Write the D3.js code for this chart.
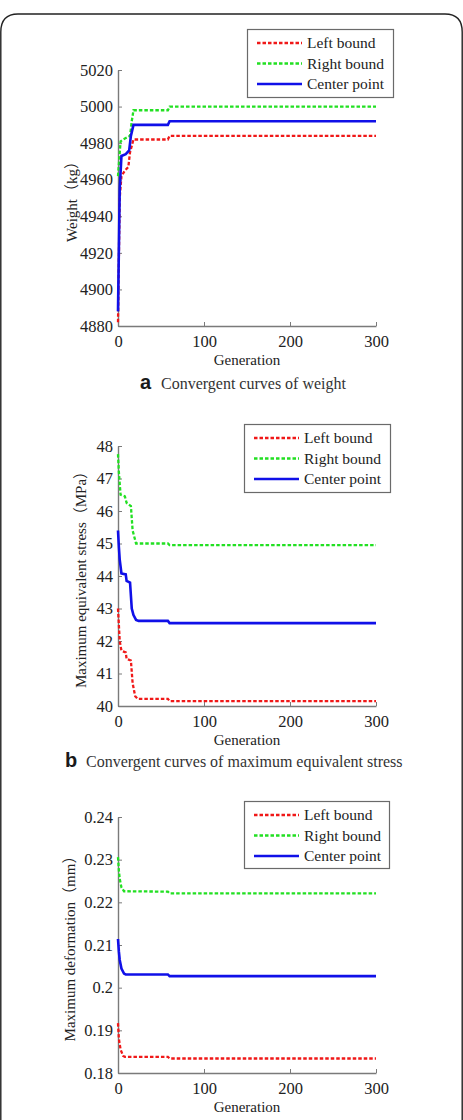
<!DOCTYPE html>
<html>
<head>
<meta charset="utf-8">
<script src="https://cdn.jsdelivr.net/npm/d3@7"></script>
<style>
  body { margin: 0; background: #fff; }
  svg { display: block; }
  .tick text { font-family: "Liberation Serif", serif; font-size: 16.5px; fill: #222; }
  .lbl { font-family: "Liberation Serif", "Noto Sans CJK SC", serif; font-size: 15px; fill: #222; }
</style>
</head>
<body>
<div id="container"></div>
<script>
// generation axis
var genTicks = [0, 100, 200, 300];
var seriesNames = ["Left bound", "Right bound", "Center point"];

// (a) weight, kg  -- [generation, value]
var weightTicks = [4880, 4900, 4920, 4940, 4960, 4980, 5000, 5020];
var weightLeft = [[0,4882],[2,4950],[4,4962],[8,4965],[12,4967],[14,4975],[18,4982],[58,4982],[60,4984],[300,4984]];
var weightRight = [[0,4962],[3,4981],[6,4982],[14,4984],[16,4992],[18,4998],[58,4998],[60,5000],[300,5000]];
var weightCenter = [[0,4888],[2,4955],[4,4973],[9,4974],[13,4976],[15,4984],[18,4990],[58,4990],[60,4992],[300,4992]];

// (b) maximum equivalent stress, MPa
var stressTicks = [40, 41, 42, 43, 44, 45, 46, 47, 48];
var stressLeft = [[0,43.0],[1,42.5],[2,42.0],[4,41.7],[9,41.65],[10,41.45],[15,41.4],[17,40.7],[20,40.3],[23,40.22],[58,40.22],[60,40.15],[300,40.15]];
var stressRight = [[0,47.75],[1,47.2],[3,46.5],[8,46.45],[10,46.25],[15,46.15],[17,45.4],[21,45.0],[58,45.0],[60,44.95],[300,44.95]];
var stressCenter = [[0,45.4],[1,44.9],[2,44.5],[4,44.08],[9,44.05],[10,43.85],[14,43.8],[16,43.0],[18,42.8],[21,42.65],[24,42.62],[58,42.62],[60,42.55],[300,42.55]];

// (c) maximum deformation, mm
var deformTicks = [0.18, 0.19, 0.20, 0.21, 0.22, 0.23, 0.24];
var deformLeft = [[0,0.1917],[1,0.1880],[3,0.1855],[6,0.1840],[8,0.1838],[58,0.1838],[60,0.1834],[300,0.1834]];
var deformRight = [[0,0.2306],[1,0.2275],[2,0.2255],[4,0.2235],[7,0.2226],[58,0.2225],[60,0.2221],[300,0.2221]];
var deformCenter = [[0,0.2114],[1,0.2085],[2,0.2065],[4,0.2045],[7,0.2033],[9,0.2031],[58,0.2031],[60,0.2027],[300,0.2027]];

var W = 463, H = 1120;
var colors = ["#f01818", "#22e022", "#1010e8"];
var dashes = ["3.5,2", "3.5,2", null];
var widths = [2.3, 2.3, 2.6];

var svg = d3.select("#container").append("svg")
	.attr("width", W)
	.attr("height", H);

// outer frame with rounded top corners
svg.append("path")
	.attr("d", "M0.8," + H + " V32 Q0.8,14 18,14 H445 Q462.2,14 462.2,32 V" + H)
	.attr("fill", "none")
	.attr("stroke", "#222")
	.attr("stroke-width", 1.4);

var panels = [
	{ top: 70, bottom: 326, ticks: weightTicks, fmt: d3.format("d"), data: [weightLeft, weightRight, weightCenter],
	  ylabel: "Weight（kg）", ylabelX: 72, legend: { x: 247, y: 29, w: 146, h: 68 },
	  capY: 389, capLetter: "a", capText: "Convergent curves of weight", capX: 140 },
	{ top: 446, bottom: 706, ticks: stressTicks, fmt: d3.format("d"), data: [stressLeft, stressRight, stressCenter],
	  ylabel: "Maximum equivalent stress（MPa）", ylabelX: 81, legend: { x: 244, y: 424, w: 146, h: 68 },
	  capY: 767, capLetter: "b", capText: "Convergent curves of maximum equivalent stress", capX: 65 },
	{ top: 817, bottom: 1073, ticks: deformTicks, fmt: function(v) { return String(+v.toFixed(2)); }, data: [deformLeft, deformRight, deformCenter],
	  ylabel: "Maximum deformation（mm）", ylabelX: 70, legend: { x: 244, y: 801, w: 145, h: 67 },
	  capY: null }
];

var x = d3.scaleLinear().domain([0, 300]).range([118, 376]);

panels.forEach(function(p) {
	var y = d3.scaleLinear()
		.domain([p.ticks[0], p.ticks[p.ticks.length - 1]])
		.range([p.bottom, p.top]);

	var g = svg.append("g");

	// x axis, ticks pointing inward
	var xa = g.append("g")
		.attr("transform", "translate(0," + p.bottom + ")")
		.call(d3.axisBottom(x).tickValues(genTicks).tickSizeInner(-4).tickSizeOuter(0).tickPadding(9));
	xa.selectAll(".tick text").attr("dy", "0.71em");

	// y axis
	var ya = g.append("g")
		.attr("transform", "translate(118,0)")
		.call(d3.axisLeft(y).tickValues(p.ticks).tickFormat(p.fmt).tickSizeInner(-4).tickSizeOuter(0).tickPadding(5));

	g.selectAll(".domain").attr("stroke", "#7a7a7a").attr("stroke-width", 1.4);
	g.selectAll(".tick line").attr("stroke", "#7a7a7a");

	// lines
	var line = d3.line()
		.x(function(d) { return x(d[0]); })
		.y(function(d) { return y(d[1]); });

	p.data.forEach(function(s, i) {
		g.append("path")
			.datum(s)
			.attr("fill", "none")
			.attr("stroke", colors[i])
			.attr("stroke-width", widths[i])
			.attr("stroke-dasharray", dashes[i])
			.attr("d", line);
	});

	// axis titles
	g.append("text")
		.attr("class", "lbl")
		.attr("x", 247)
		.attr("y", p.bottom + 39)
		.attr("text-anchor", "middle")
		.text("Generation");

	g.append("text")
		.attr("class", "lbl")
		.attr("transform", "translate(" + (p.ylabelX + 5) + "," + ((p.top + p.bottom) / 2) + ") rotate(-90)")
		.attr("text-anchor", "middle")
		.text(p.ylabel);

	// legend
	var L = p.legend;
	var lg = g.append("g").attr("transform", "translate(" + L.x + "," + L.y + ")");
	lg.append("rect")
		.attr("x", 0.5).attr("y", 0.5)
		.attr("width", L.w).attr("height", L.h)
		.attr("fill", "#fff")
		.attr("stroke", "#6a6a6a")
		.attr("stroke-width", 1.2);
	seriesNames.forEach(function(name, i) {
		var cy = 14 + i * 20.5;
		lg.append("line")
			.attr("x1", 10).attr("x2", 55)
			.attr("y1", cy).attr("y2", cy)
			.attr("stroke", colors[i])
			.attr("stroke-width", widths[i])
			.attr("stroke-dasharray", dashes[i]);
		lg.append("text")
			.attr("class", "lbl")
			.attr("x", 60)
			.attr("y", cy + 5)
			.style("font-size", "15.5px")
			.text(name);
	});

	// caption
	if (p.capY) {
		g.append("text")
			.attr("x", p.capX)
			.attr("y", p.capY)
			.style("font-family", "'Liberation Sans', Arial, sans-serif")
			.style("font-weight", "bold")
			.style("font-size", "20px")
			.attr("fill", "#1a1a1a")
			.text(p.capLetter);
		g.append("text")
			.attr("x", p.capX + 21)
			.attr("y", p.capY)
			.style("font-family", "'Liberation Serif', serif")
			.style("font-size", "16px")
			.attr("fill", "#333")
			.text(p.capText);
	}
});
</script>
</body>
</html>
